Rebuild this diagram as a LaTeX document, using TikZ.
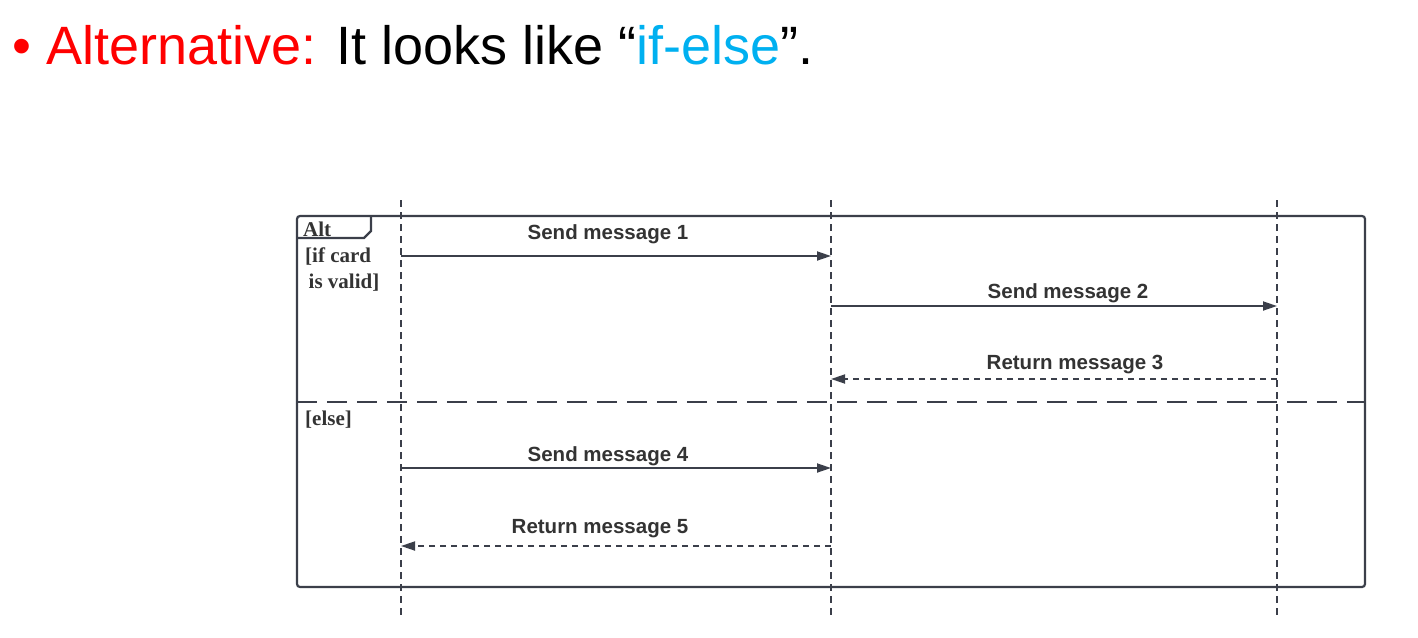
\documentclass[tikz,border=0pt]{standalone}
\usepackage{fontspec}
\setmainfont{Liberation Sans}
\newfontfamily\serifb{Liberation Serif}
\usetikzlibrary{arrows.meta}
\definecolor{lnc}{HTML}{3B3F4A}
\definecolor{txc}{HTML}{333333}
\definecolor{titred}{HTML}{FF0000}
\definecolor{titblue}{HTML}{00B0F0}
\tikzset{
  lifeline/.style={draw=lnc, line width=2pt, dash pattern=on 7pt off 5pt},
  msgsolid/.style={draw=lnc, line width=1.8pt, -{Triangle[length=14pt,width=9pt]}},
  msgreturn/.style={draw=lnc, line width=1.8pt, dash pattern=on 6pt off 5pt, -{Triangle[length=14pt,width=9pt]}},
  msglabel/.style={font=\fontsize{20.5}{24}\selectfont\bfseries, text=txc, inner sep=0pt},
  guardlabel/.style={font=\serifb\fontsize{21}{26}\selectfont\bfseries, text=txc, inner sep=0pt, align=left, anchor=west},
  framebox/.style={draw=lnc, line width=2.2pt, rounded corners=3pt},
}
\begin{document}
\begin{tikzpicture}[x=1pt,y=-1pt]
\useasboundingbox (0,0) rectangle (1418,637);
% title
\node[anchor=base west, inner sep=0pt, font=\fontsize{54}{60}\selectfont] (title) at (12,64)
  {\textcolor{titred}{\textbullet\ Alternative:} It looks like “\textcolor{titblue}{if-else}”.};
% lifelines
\coordinate (lA) at (401,200); \coordinate (lAb) at (401,615);
\coordinate (lB) at (831,200); \coordinate (lBb) at (831,615);
\coordinate (lC) at (1277,200); \coordinate (lCb) at (1277,615);
\draw[lifeline] (lA) -- (lAb);
\draw[lifeline] (lB) -- (lBb);
\draw[lifeline] (lC) -- (lCb);
% frame
\draw[framebox] (297,216) rectangle (1365,587);
\coordinate (tab1) at (297,238);
\coordinate (tab2) at (364,238);
\coordinate (tab3) at (371,231);
\coordinate (tab4) at (371,216);
\draw[draw=lnc, line width=2.2pt] (tab1) -- (tab2) -- (tab3) -- (tab4);
\coordinate (sepL) at (297,402); \coordinate (sepR) at (1365,402);
\draw[draw=lnc, line width=2.2pt, dash pattern=on 20pt off 10pt] (sepL) -- (sepR);
\node[guardlabel] (alt) at (303,229) {Alt};
\node[guardlabel] (g1) at (305,270) {[if card\\ \,is valid]};
\node[guardlabel] (g2) at (305,420) {[else]};
% messages
\coordinate (m1a) at (401,256); \coordinate (m1b) at (831,256);
\coordinate (m2a) at (831,306); \coordinate (m2b) at (1277,306);
\coordinate (m3a) at (1277,379); \coordinate (m3b) at (831,379);
\coordinate (m4a) at (401,468); \coordinate (m4b) at (831,468);
\coordinate (m5a) at (831,546); \coordinate (m5b) at (401,546);
\draw[msgsolid] (m1a) -- (m1b);
\draw[msgsolid] (m2a) -- (m2b);
\draw[msgreturn] (m3a) -- (m3b);
\draw[msgsolid] (m4a) -- (m4b);
\draw[msgreturn] (m5a) -- (m5b);
\node[msglabel] (t1) at (608,234) {Send message 1};
\node[msglabel] (t2) at (1068,293) {Send message 2};
\node[msglabel] (t3) at (1075,365) {Return message 3};
\node[msglabel] (t4) at (608,456) {Send message 4};
\node[msglabel] (t5) at (600,529) {Return message 5};
\end{tikzpicture}
\end{document}
